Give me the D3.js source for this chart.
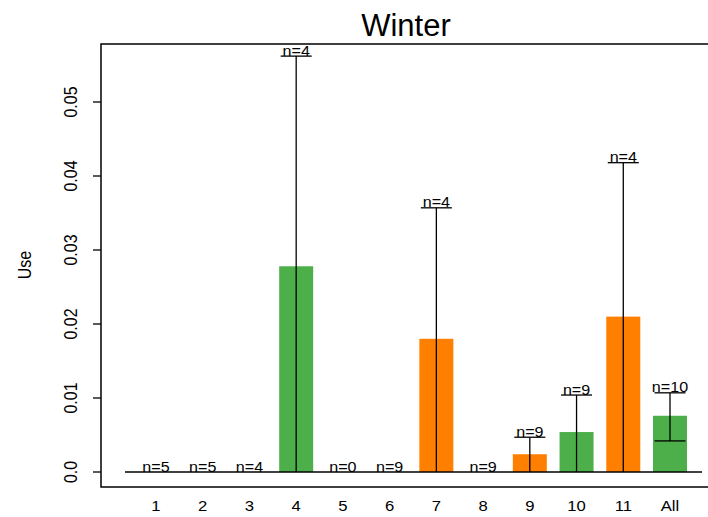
<!DOCTYPE html>
<html>
<head>
<meta charset="utf-8">
<script src="https://cdn.jsdelivr.net/npm/d3@7"></script>
<style>
  html, body { margin: 0; padding: 0; background: #fff; }
  svg { display: block; font-family: "Liberation Sans", Arial, Helvetica, sans-serif; }
</style>
</head>
<body>
<svg id="chart" width="708" height="517"></svg>
<script>
// ---- data ----
const categories = ["1","2","3","4","5","6","7","8","9","10","11","All"];
const means  = [0, 0, 0, 0.0278, 0, 0, 0.0180, 0, 0.0024, 0.0054, 0.0210, 0.0076];
const upper  = [null, null, null, 0.0562, null, null, 0.0357, null, 0.0047, 0.0104, 0.0418, 0.0107];
const lower  = [null, null, null, 0, null, null, 0, null, 0, 0, 0, 0.0042];
const counts = [5, 5, 4, 4, 0, 9, 4, 9, 9, 9, 4, 10];
const groups = ["A","A","A","A","A","A","B","A","B","A","B","A"];
const yTicks = [0, 0.01, 0.02, 0.03, 0.04, 0.05];
const yTickLabels = ["0.0", "0.01", "0.02", "0.03", "0.04", "0.05"];
const title = "Winter";
const yTitle = "Use";

// ---- layout ----
const svg = d3.select("#chart");
const box = { left: 101, top: 44, bottom: 487, right: 720 };
const y = d3.scaleLinear().domain([0, 0.05]).range([472, 102]);
const x = d3.scalePoint().domain(categories).range([156, 670]);
const color = d3.scaleOrdinal().domain(["A","B"]).range(["#4daf4a", "#ff7f00"]);
const barW = 34, capW = 31;
const sx = 1.15; // horizontal glyph stretch seen in the reference

// bars
svg.selectAll("rect.bar")
  .data(categories.map((c, i) => ({ c, m: means[i], g: groups[i] })).filter(d => d.m > 0))
  .enter().append("rect")
  .attr("class", "bar")
  .attr("x", d => x(d.c) - barW / 2)
  .attr("width", barW)
  .attr("y", d => y(d.m))
  .attr("height", d => y(0) - y(d.m))
  .attr("fill", d => color(d.g));

// baseline
svg.append("line")
  .attr("x1", x(categories[0]) - 31).attr("x2", x(categories[categories.length - 1]) + 32)
  .attr("y1", y(0)).attr("y2", y(0))
  .attr("stroke", "#000").attr("stroke-width", 1.3);

// error bars
const eb = categories.map((c, i) => ({ c, u: upper[i], l: lower[i], n: counts[i] }));
const withErr = eb.filter(d => d.u !== null);
svg.selectAll("line.err").data(withErr).enter().append("line")
  .attr("x1", d => x(d.c)).attr("x2", d => x(d.c))
  .attr("y1", d => y(d.l)).attr("y2", d => y(d.u))
  .attr("stroke", "#000").attr("stroke-width", 1.3);
svg.selectAll("line.capU").data(withErr).enter().append("line")
  .attr("x1", d => x(d.c) - capW / 2).attr("x2", d => x(d.c) + capW / 2)
  .attr("y1", d => y(d.u)).attr("y2", d => y(d.u))
  .attr("stroke", "#000").attr("stroke-width", 1.3);
svg.selectAll("line.capL").data(withErr.filter(d => d.l > 0)).enter().append("line")
  .attr("x1", d => x(d.c) - capW / 2).attr("x2", d => x(d.c) + capW / 2)
  .attr("y1", d => y(d.l)).attr("y2", d => y(d.l))
  .attr("stroke", "#000").attr("stroke-width", 1.3);

// n labels
svg.selectAll("text.n").data(eb).enter().append("text")
  .attr("transform", d => `translate(${x(d.c)},${(d.u !== null ? y(d.u) : y(0)) - 0.5}) scale(${sx},1)`)
  .attr("text-anchor", "middle")
  .attr("font-size", 14)
  .attr("fill", "#000")
  .text(d => "n=" + d.n);

// box (left, top, bottom)
svg.append("path")
  .attr("d", `M${box.right},${box.top}H${box.left}V${box.bottom}H${box.right}`)
  .attr("fill", "none").attr("stroke", "#000").attr("stroke-width", 1.5);

// y ticks
svg.selectAll("line.ytick").data(yTicks).enter().append("line")
  .attr("x1", box.left - 8).attr("x2", box.left)
  .attr("y1", d => y(d)).attr("y2", d => y(d))
  .attr("stroke", "#000").attr("stroke-width", 1.3);
svg.selectAll("text.ytl").data(yTicks).enter().append("text")
  .attr("transform", d => `translate(77,${y(d)}) rotate(-90) scale(1,${sx + 0.05})`)
  .attr("text-anchor", "middle")
  .attr("font-size", 16)
  .attr("fill", "#000")
  .text((d, i) => yTickLabels[i]);

// x labels
svg.selectAll("text.xl").data(categories).enter().append("text")
  .attr("transform", d => `translate(${x(d)},511) scale(${sx},1)`)
  .attr("text-anchor", "middle")
  .attr("font-size", 14.5)
  .attr("fill", "#000")
  .text(d => d);

// titles
svg.append("text")
  .attr("x", 406).attr("y", 36)
  .attr("text-anchor", "middle")
  .attr("font-size", 31)
  .attr("fill", "#000")
  .text(title);
svg.append("text")
  .attr("transform", `translate(31,265) rotate(-90) scale(1,${sx})`)
  .attr("text-anchor", "middle")
  .attr("font-size", 16)
  .attr("fill", "#000")
  .text(yTitle);
</script>
</body>
</html>
